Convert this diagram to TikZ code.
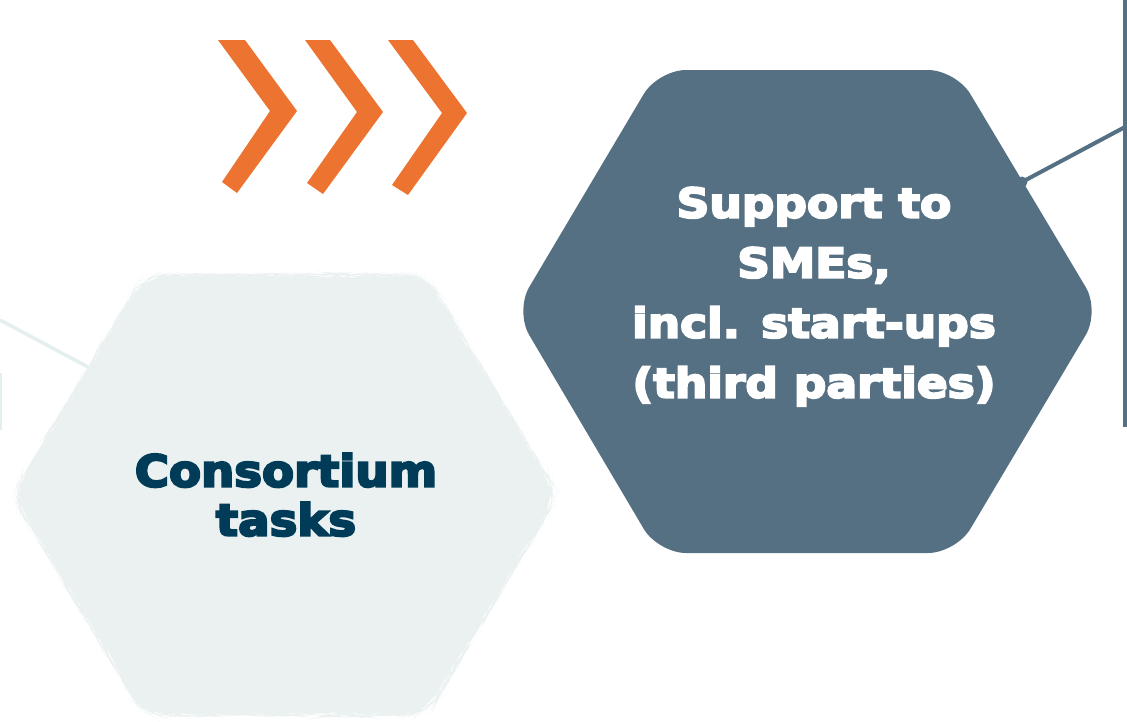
\documentclass[tikz,border=0pt]{standalone}
\usepackage{fontspec}
\newfontfamily\supfont{DejaVu Sans}[UprightFont={* Bold},FakeStretch=1.11,FakeBold=5]
\newfontfamily\consfont{DejaVu Sans}[UprightFont={* Bold},FakeStretch=1.06,FakeBold=5]
\usetikzlibrary{decorations.pathmorphing,calc}
\definecolor{hexdark}{HTML}{557083}
\definecolor{hexlight}{HTML}{EBF1F1}
\definecolor{chevorange}{HTML}{ED7430}
\definecolor{constext}{HTML}{003B58}
\definecolor{lightline}{HTML}{E6EFEF}
\tikzset{
  chev/.style={fill=chevorange},
  darkhex/.style={fill=hexdark, rounded corners=28pt},
  lighthex/.style={fill=hexlight, rounded corners=22pt, decorate,
    decoration={random steps, segment length=5pt, amplitude=0.6pt}},
  darkline/.style={draw=hexdark, line width=4pt},
  lightconn/.style={draw=lightline, line width=3.6pt},
  suptext/.style={text=white, inner sep=0pt, align=center,
    font=\supfont\fontsize{41}{60}\selectfont},
  constextstyle/.style={text=constext, inner sep=0pt, align=center,
    font=\consfont\fontsize{44}{49}\selectfont},
}
\begin{document}
\begin{tikzpicture}[x=1pt,y=-1pt]
\useasboundingbox (0,0) rectangle (1127,721);
\pgfmathsetseed{7}

% chevrons
\fill[chev] (218,40) -- (245,40) -- (297,111) -- (237,193) -- (222,182) -- (270,111) -- cycle;
\fill[chev] (305,40) -- (330,40) -- (383,112) -- (323,194) -- (307,183) -- (357,112) -- cycle;
\fill[chev] (388,40) -- (413,40) -- (467,113) -- (408,195) -- (392,185) -- (442,113) -- cycle;

% light connector and faint left line
\coordinate (lfree) at (0,320);
\coordinate (lhedge) at (88,367);
\draw[lightconn] (lfree) -- (lhedge);
\coordinate (ltop) at (0.8,373);
\coordinate (lbot) at (0.8,430);
\draw[draw=lightline, line width=1.6pt] (ltop) -- (lbot);

% light hexagon
\path[lighthex] (144,275) -- (426,275) -- (558,495) -- (426,715) -- (144,715) -- (12,495) -- cycle;

% dark hexagon
\path[darkhex] (658,70) -- (956,70) -- (1100,311) -- (956,553) -- (658,553) -- (515,311) -- cycle;

% right vertical line and connector
\coordinate (vtop) at (1125,0);
\coordinate (vbot) at (1125,427);
\coordinate (vjoin) at (1125,127);
\coordinate (dot) at (1022,182);
\draw[darkline] (vtop) -- (vbot);
\draw[darkline] (dot) -- (vjoin);
\fill[hexdark] (dot) circle (5.5pt);

% texts
\node[suptext, anchor=north] (sup) at (814,187) {Support to\\SMEs,\\incl. start-ups\\(third parties)};
\node[constextstyle, anchor=north] (cons) at (286,453) {Consortium\\tasks};
\end{tikzpicture}
\end{document}
